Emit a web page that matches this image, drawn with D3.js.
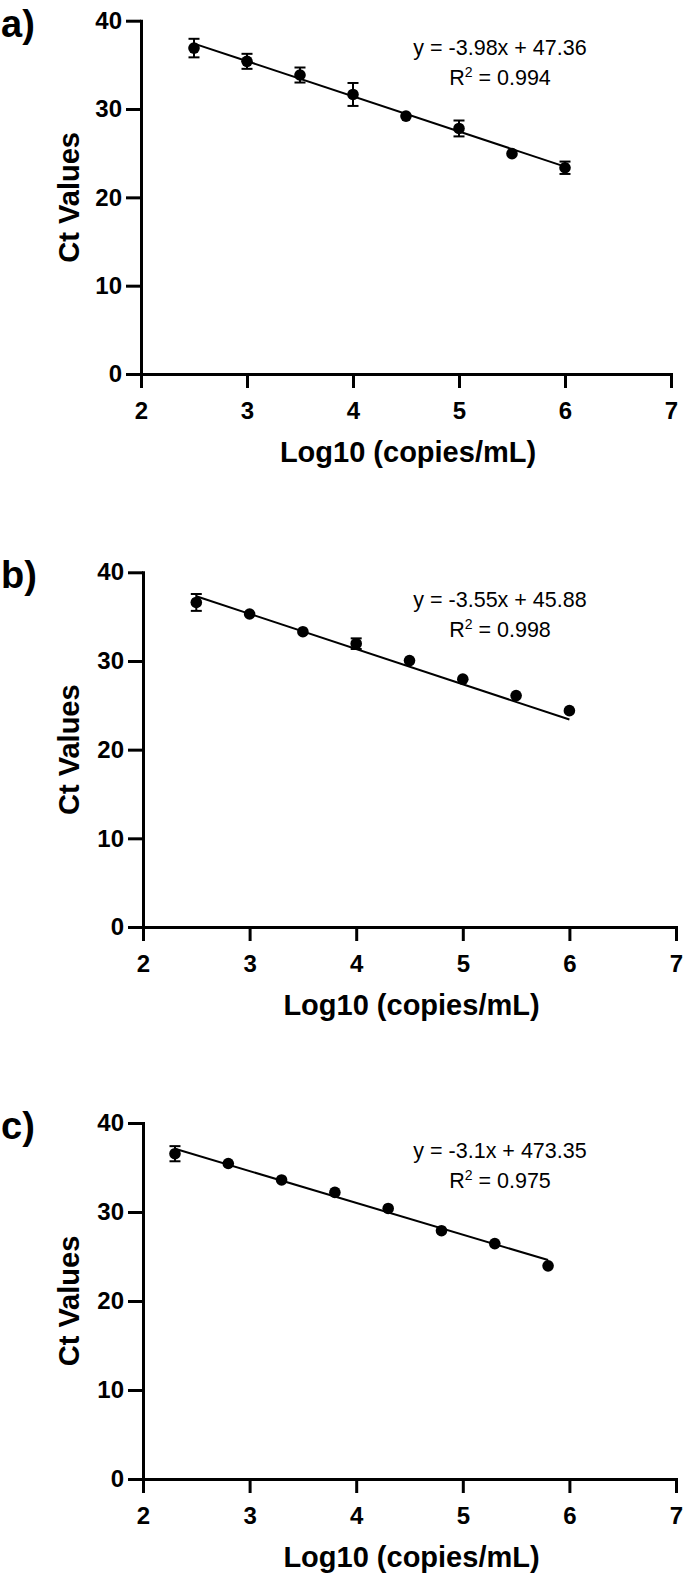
<!DOCTYPE html>
<html>
<head>
<meta charset="utf-8">
<script src="https://cdn.jsdelivr.net/npm/d3@7"></script>
<style>
  html, body { margin: 0; padding: 0; background: #fff; }
  svg { display: block; }
</style>
</head>
<body>
<div id="chart"></div>
<script>
// ---------- data ----------
const xTicks = [2, 3, 4, 5, 6, 7];
const yTicks = [0, 10, 20, 30, 40];
const xTitle = "Log10 (copies/mL)";
const yTitle = "Ct Values";
const panelLabels = ["a)", "b)", "c)"];

const logA = [2.5, 3, 3.5, 4, 4.5, 5, 5.5, 6];
const ctA  = [36.9, 35.4, 33.85, 31.65, 29.2, 27.8, 24.95, 23.35];
const sdA  = [1.05, 0.85, 0.85, 1.3, 0, 0.9, 0, 0.7];
const fitA = [[2.5, 37.41], [6, 23.48]];
const eqA  = "y = -3.98x + 47.36";
const r2A  = "0.994";

const logB = [2.5, 3, 3.5, 4, 4.5, 5, 5.5, 6];
const ctB  = [36.6, 35.3, 33.3, 31.95, 30.05, 27.95, 26.1, 24.4];
const sdB  = [0.95, 0, 0, 0.6, 0, 0, 0, 0];
const fitB = [[2.5, 37.3], [6, 23.4]];
const eqB  = "y = -3.55x + 45.88";
const r2B  = "0.998";

const logC = [2.3, 2.8, 3.3, 3.8, 4.3, 4.8, 5.3, 5.8];
const ctC  = [36.55, 35.45, 33.6, 32.2, 30.4, 27.9, 26.45, 23.95];
const sdC  = [0.85, 0, 0, 0, 0, 0, 0, 0];
const fitC = [[2.3, 37.1], [5.8, 24.6]];
const eqC  = "y = -3.1x + 473.35";
const r2C  = "0.975";

// ---------- layout ----------
const W = 683, H = 1574;
const frames = [
  { left: 141, right: 671, top: 20.7, bottom: 374 },
  { left: 143, right: 676, top: 572.3, bottom: 927 },
  { left: 143, right: 676, top: 1123, bottom: 1479 }
];
const panels = [
  { x: logA, y: ctA, sd: sdA, fit: fitA, eq: eqA, r2: r2A },
  { x: logB, y: ctB, sd: sdB, fit: fitB, eq: eqB, r2: r2B },
  { x: logC, y: ctC, sd: sdC, fit: fitC, eq: eqC, r2: r2C }
];
const FONT = "'Liberation Sans', Arial, Helvetica, sans-serif";

const svg = d3.select("#chart").append("svg")
  .attr("width", W).attr("height", H)
  .attr("viewBox", `0 0 ${W} ${H}`);
svg.append("rect").attr("width", W).attr("height", H).attr("fill", "#fff");

panels.forEach((p, i) => {
  const f = frames[i];
  const x = d3.scaleLinear().domain([2, 7]).range([f.left, f.right]);
  const y = d3.scaleLinear().domain([0, 40]).range([f.bottom, f.top]);
  const g = svg.append("g");

  // panel label
  g.append("text")
    .attr("x", 1).attr("y", f.top + 16)
    .attr("font-family", FONT).attr("font-weight", "bold")
    .attr("font-size", 38).attr("fill", "#000")
    .text(panelLabels[i]);

  // axes
  const yAxis = g.append("g")
    .attr("transform", `translate(${f.left},0)`)
    .call(d3.axisLeft(y).tickValues(yTicks).tickFormat(d3.format("d"))
      .tickSize(15).tickSizeOuter(0).tickPadding(4));
  const xAxis = g.append("g")
    .attr("transform", `translate(0,${f.bottom})`)
    .call(d3.axisBottom(x).tickValues(xTicks).tickFormat(d3.format("d"))
      .tickSize(14).tickSizeOuter(0).tickPadding(14));
  [yAxis, xAxis].forEach(a => {
    a.select(".domain").attr("stroke", "#000").attr("stroke-width", 3).attr("stroke-linecap", "square");
    a.selectAll(".tick line").attr("stroke", "#000").attr("stroke-width", 3);
    a.selectAll(".tick text")
      .attr("font-family", FONT).attr("font-weight", "bold")
      .attr("font-size", 24).attr("fill", "#000");
  });

  // axis titles
  g.append("text")
    .attr("x", (f.left + f.right) / 2 + 2).attr("y", f.bottom + 88)
    .attr("text-anchor", "middle")
    .attr("font-family", FONT).attr("font-weight", "bold")
    .attr("font-size", 29).attr("fill", "#000")
    .text(xTitle);
  g.append("text")
    .attr("transform", `translate(79,${(f.top + f.bottom) / 2}) rotate(-90)`)
    .attr("text-anchor", "middle")
    .attr("font-family", FONT).attr("font-weight", "bold")
    .attr("font-size", 29).attr("fill", "#000")
    .text(yTitle);

  // fit line
  g.append("path")
    .datum(p.fit)
    .attr("d", d3.line().x(d => x(d[0])).y(d => y(d[1])))
    .attr("fill", "none").attr("stroke", "#000").attr("stroke-width", 2);

  const pts = p.x.map((v, k) => ({ lx: v, ct: p.y[k], sd: p.sd[k] }));
  const eb = pts.filter(d => d.sd > 0);
  const cap = 5.5;
  const ebG = g.append("g").attr("stroke", "#000").attr("stroke-width", 2);
  ebG.selectAll("line.v").data(eb).join("line")
    .attr("x1", d => x(d.lx)).attr("x2", d => x(d.lx))
    .attr("y1", d => y(d.ct + d.sd)).attr("y2", d => y(d.ct - d.sd));
  ebG.selectAll("line.t").data(eb).join("line")
    .attr("x1", d => x(d.lx) - cap).attr("x2", d => x(d.lx) + cap)
    .attr("y1", d => y(d.ct + d.sd)).attr("y2", d => y(d.ct + d.sd));
  ebG.selectAll("line.b").data(eb).join("line")
    .attr("x1", d => x(d.lx) - cap).attr("x2", d => x(d.lx) + cap)
    .attr("y1", d => y(d.ct - d.sd)).attr("y2", d => y(d.ct - d.sd));

  // points
  g.selectAll("circle").data(pts).join("circle")
    .attr("cx", d => x(d.lx)).attr("cy", d => y(d.ct))
    .attr("r", 5.8).attr("fill", "#000");

  // equation
  g.append("text")
    .attr("x", 500).attr("y", f.top + 34.5)
    .attr("text-anchor", "middle")
    .attr("font-family", FONT).attr("font-size", 21.5).attr("fill", "#000")
    .text(p.eq);
  const r2 = g.append("text")
    .attr("x", 500).attr("y", f.top + 64.5)
    .attr("text-anchor", "middle")
    .attr("font-family", FONT).attr("font-size", 21.5).attr("fill", "#000");
  r2.append("tspan").text("R");
  r2.append("tspan").attr("dy", -8).attr("font-size", 14).text("2");
  r2.append("tspan").attr("dy", 8).text(" = " + p.r2);
});
</script>
</body>
</html>
